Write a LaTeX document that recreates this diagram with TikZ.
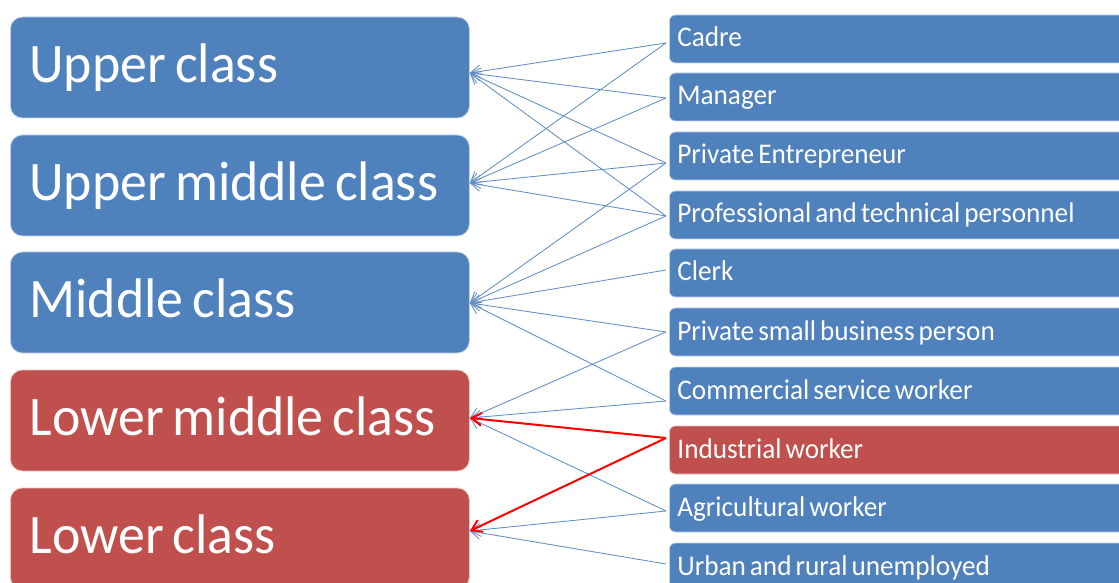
\documentclass[tikz,border=0pt]{standalone}
\usepackage{fontspec}
\setmainfont{Carlito}[FakeStretch=0.965]
\newfontfamily\jobfont{Carlito}[FakeStretch=0.955]
\usetikzlibrary{arrows.meta,calc}
\definecolor{boxblue}{HTML}{4F81BD}
\definecolor{boxred}{HTML}{C0504D}
\definecolor{linered}{HTML}{FF0000}
\tikzset{
  classbox/.style={draw=white!65!boxblue, line width=0.8bp, fill=boxblue, rounded corners=12bp,
    anchor=west, minimum height=101bp, text width=421bp, inner xsep=19bp, inner ysep=0pt,
    align=left, text=white, font=\fontsize{56}{60}\selectfont, text height=40bp, text depth=10bp,
    execute at begin node={\spaceskip=9bp\relax}},
  jobbox/.style={draw=white!65!boxblue, line width=0.8bp, fill=boxblue, rounded corners=6bp,
    anchor=west, minimum height=48bp, text width=470bp, inner xsep=8bp, inner ysep=0pt,
    align=left, text=white, font=\jobfont\fontsize{28.6}{32}\selectfont, text height=20bp, text depth=4bp,
    execute at begin node={\spaceskip=4bp\relax}},
  redbox/.style={fill=boxred, draw=white!65!boxred},
  conn/.style={draw=boxblue!90!white, line width=0.85bp, -{Straight Barb[length=10bp,width=13bp]}},
  redconn/.style={draw=linered, line width=2bp, -{Straight Barb[length=10bp,width=13bp]}}
}
\begin{document}
\begin{tikzpicture}[x=1bp,y=-1bp]
\useasboundingbox (0,0) rectangle (1119,583);
\clip (0,0) rectangle (1119,583);
% class boxes
\node[classbox] (upper) at (10,67.5) {Upper class};
\node[classbox] (uppermid) at (10,185.5) {Upper middle class};
\node[classbox] (middle) at (10,302.5) {Middle class};
\node[classbox,redbox] (lowermid) at (10,420.5) {Lower middle class};
\node[classbox,redbox] (lower) at (10,538.5) {Lower class};
% occupation boxes
\node[jobbox] (cadre) at (669,39) {Cadre};
\node[jobbox] (manager) at (669,97) {Manager};
\node[jobbox] (entre) at (669,156) {Private Entrepreneur};
\node[jobbox] (prof) at (669,215) {Professional and technical personnel};
\node[jobbox] (clerk) at (669,273) {Clerk};
\node[jobbox] (small) at (669,332) {Private small business person};
\node[jobbox] (comm) at (669,391) {Commercial service worker};
\node[jobbox,redbox] (indus) at (669,450) {Industrial worker};
\node[jobbox] (agri) at (669,508) {Agricultural worker};
\node[jobbox] (unemp) at (669,567) {Urban and rural unemployed};
% arrow tips on class boxes
\coordinate (tUpper) at ([yshift=-5.5bp]upper.east);
\coordinate (tUppermid) at ([yshift=2.5bp]uppermid.east);
\coordinate (tMiddle) at ([yshift=-0.5bp]middle.east);
\coordinate (tLowermid) at ([yshift=2.5bp]lowermid.east);
\coordinate (tLower) at ([yshift=7.5bp]lower.east);
% start points on occupation boxes
\coordinate (sCadre) at ([xshift=-3bp,yshift=-4bp]cadre.west);
\coordinate (sManager) at ([xshift=-3bp,yshift=-1bp]manager.west);
\coordinate (sEntre) at ([xshift=-3bp,yshift=-7bp]entre.west);
\coordinate (sProf) at ([xshift=-3bp,yshift=-1bp]prof.west);
\coordinate (sClerk) at ([xshift=-3bp,yshift=3bp]clerk.west);
\coordinate (sSmall) at ([xshift=-3bp]small.west);
\coordinate (sComm) at ([xshift=-3bp,yshift=-10bp]comm.west);
\coordinate (sIndus) at ([xshift=-3bp,yshift=12bp]indus.west);
\coordinate (sAgri) at ([xshift=-3bp,yshift=-3bp]agri.west);
\coordinate (sUnemp) at ([xshift=-3bp,yshift=3bp]unemp.west);
% connectors
\draw[conn] (sCadre) -- (tUpper);
\draw[conn] (sCadre) -- (tUppermid);
\draw[conn] (sManager) -- (tUpper);
\draw[conn] (sManager) -- (tUppermid);
\draw[conn] (sEntre) -- (tUpper);
\draw[conn] (sEntre) -- (tUppermid);
\draw[conn] (sEntre) -- (tMiddle);
\draw[conn] (sProf) -- (tUpper);
\draw[conn] (sProf) -- (tUppermid);
\draw[conn] (sProf) -- (tMiddle);
\draw[conn] (sClerk) -- (tMiddle);
\draw[conn] (sSmall) -- (tMiddle);
\draw[conn] (sSmall) -- (tLowermid);
\draw[conn] (sComm) -- (tMiddle);
\draw[conn] (sComm) -- (tLowermid);
\draw[conn] (sAgri) -- (tLowermid);
\draw[conn] (sAgri) -- (tLower);
\draw[conn] (sUnemp) -- (tLower);
\draw[redconn] (sIndus) -- (tLowermid);
\draw[redconn] (sIndus) -- (tLower);
\end{tikzpicture}
\end{document}
